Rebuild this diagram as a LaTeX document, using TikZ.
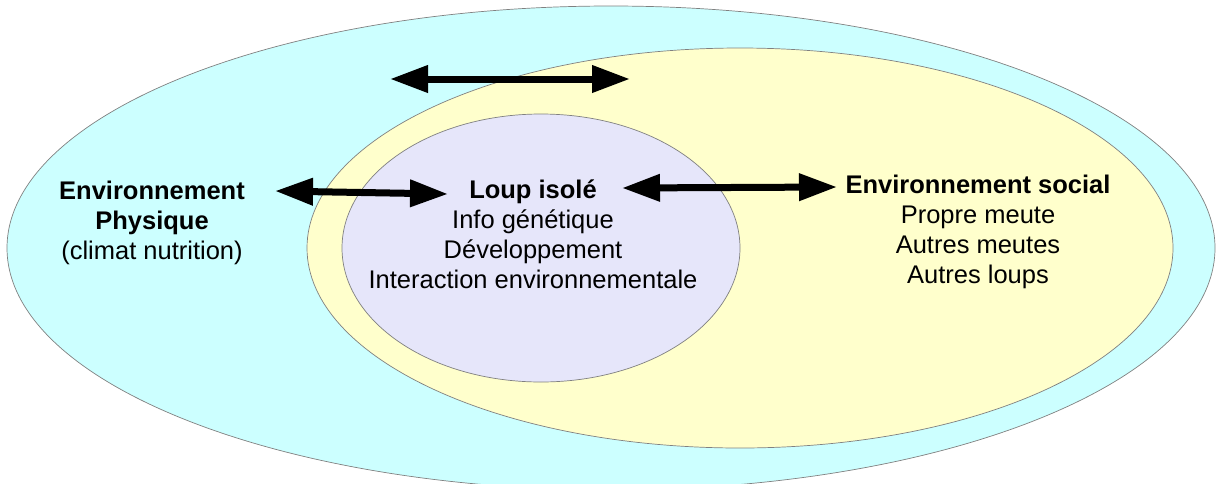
\documentclass[tikz,border=0pt]{standalone}
\usepackage{fontspec}
\setmainfont{Liberation Sans}
\usetikzlibrary{positioning, arrows.meta}

\definecolor{fondphys}{RGB}{204,255,255}
\definecolor{fondsocial}{RGB}{255,255,204}
\definecolor{fondloup}{RGB}{230,230,250}

\begin{document}
\begin{tikzpicture}[x=1pt, y=-1pt,
    zone/.style={draw=gray, line width=0.7pt},
    bloc/.style={align=center, inner sep=0pt, font=\fontsize{25.5}{30}\selectfont},
    fleche/.style={{Triangle[length=38pt,width=26pt]}-{Triangle[length=38pt,width=26pt]}, line width=7pt, black}]
    \useasboundingbox (0,0) rectangle (1217,483);

    % Les trois environnements emboites
    \draw[zone, fill=fondphys] (611,248) ellipse [x radius=604pt, y radius=242pt];
    \draw[zone, fill=fondsocial] (740,248) ellipse [x radius=433pt, y radius=200pt];
    \draw[zone, fill=fondloup] (541,248) ellipse [x radius=199pt, y radius=134pt];

    % Textes
    \node (physique) [bloc] at (152,223)
    {\textbf{Environnement} \\ \textbf{Physique} \\ (climat nutrition)};
    \node (loup) [bloc] at (533,234)
    {\textbf{Loup isolé} \\ Info génétique \\ Développement \\ Interaction environnementale};
    \node (social) [bloc] at (978,232)
    {\textbf{Environnement social} \\ Propre meute \\ Autres meutes \\ Autres loups};

    % Extremites des fleches
    \coordinate (hautG) at (390,79);
    \coordinate (hautD) at (630,79);
    \coordinate (physD) at (275,191);
    \coordinate (loupG) at (448,194);
    \coordinate (loupD) at (622,188);
    \coordinate (socialG) at (837,187);

    % Fleches d'interaction
    \draw[fleche] (hautG) -- (hautD);
    \draw[fleche] (physD) -- (loupG);
    \draw[fleche] (loupD) -- (socialG);
\end{tikzpicture}
\end{document}
